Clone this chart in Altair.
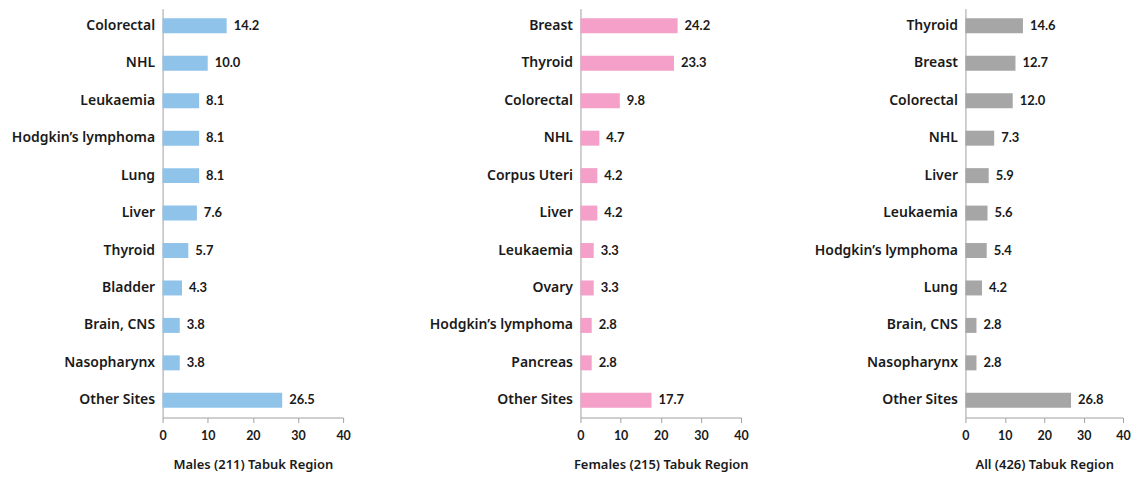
import altair as alt
import pandas as pd

male_cats = ["Colorectal", "NHL", "Leukaemia", "Hodgkin’s lymphoma", "Lung", "Liver",
             "Thyroid", "Bladder", "Brain, CNS", "Nasopharynx", "Other Sites"]
male_vals = [14.2, 10.0, 8.1, 8.1, 8.1, 7.6, 5.7, 4.3, 3.8, 3.8, 26.5]

female_cats = ["Breast", "Thyroid", "Colorectal", "NHL", "Corpus Uteri", "Liver",
               "Leukaemia", "Ovary", "Hodgkin’s lymphoma", "Pancreas", "Other Sites"]
female_vals = [24.2, 23.3, 9.8, 4.7, 4.2, 4.2, 3.3, 3.3, 2.8, 2.8, 17.7]

all_cats = ["Thyroid", "Breast", "Colorectal", "NHL", "Liver", "Leukaemia",
            "Hodgkin’s lymphoma", "Lung", "Brain, CNS", "Nasopharynx", "Other Sites"]
all_vals = [14.6, 12.7, 12.0, 7.3, 5.9, 5.6, 5.4, 4.2, 2.8, 2.8, 26.8]

x_ticks = [0, 10, 20, 30, 40]

LABEL_FONT = "Noto Sans"
NUM_FONT = "Lato"


def panel(cats, vals, color, title, width, extent):
    df = pd.DataFrame({"cat": cats, "val": vals})
    y = alt.Y("cat:N", sort=cats, title=None,
              scale=alt.Scale(paddingInner=0.6, paddingOuter=0.26),
              axis=alt.Axis(domainColor="#a0a0a0", ticks=False, labelPadding=8,
                            labelFont=LABEL_FONT, labelFontSize=14, labelFontWeight=600,
                            labelColor="#1a1a1a", minExtent=extent, maxExtent=extent,
                            labelLimit=300))
    x = alt.X("val:Q", title=title, scale=alt.Scale(domain=[0, 40], nice=False),
              axis=alt.Axis(values=x_ticks, grid=False, domainColor="#a0a0a0",
                            tickColor="#a0a0a0", tickSize=5, labelFlush=False,
                            labelFont=NUM_FONT, labelFontSize=12.5, labelFontWeight="bold",
                            labelColor="#1a1a1a", labelPadding=7,
                            titleFont=LABEL_FONT, titleFontSize=13, titleFontWeight=600,
                            titleColor="#1a1a1a", titlePadding=17))
    base = alt.Chart(df).encode(y=y, x=x)
    bars = base.mark_bar(color=color)
    text = base.mark_text(align="left", baseline="middle", dx=7, font=NUM_FONT,
                          fontSize=13, fontWeight="bold", color="#1a1a1a").encode(
        text=alt.Text("val:Q", format=".1f"))
    return (bars + text).properties(width=width, height=410)


chart = alt.hconcat(
    panel(male_cats, male_vals, "#8fc3ea", "Males (211) Tabuk Region", 181, 155),
    panel(female_cats, female_vals, "#f4a0c8", "Females  (215) Tabuk Region", 161, 170),
    panel(all_cats, all_vals, "#a6a6a6", "All (426) Tabuk Region", 158, 156),
    spacing=60,
).configure(background="white", padding=0).configure_view(stroke=None)

chart.save("out.html", embed_options={"renderer": "svg", "actions": False})
